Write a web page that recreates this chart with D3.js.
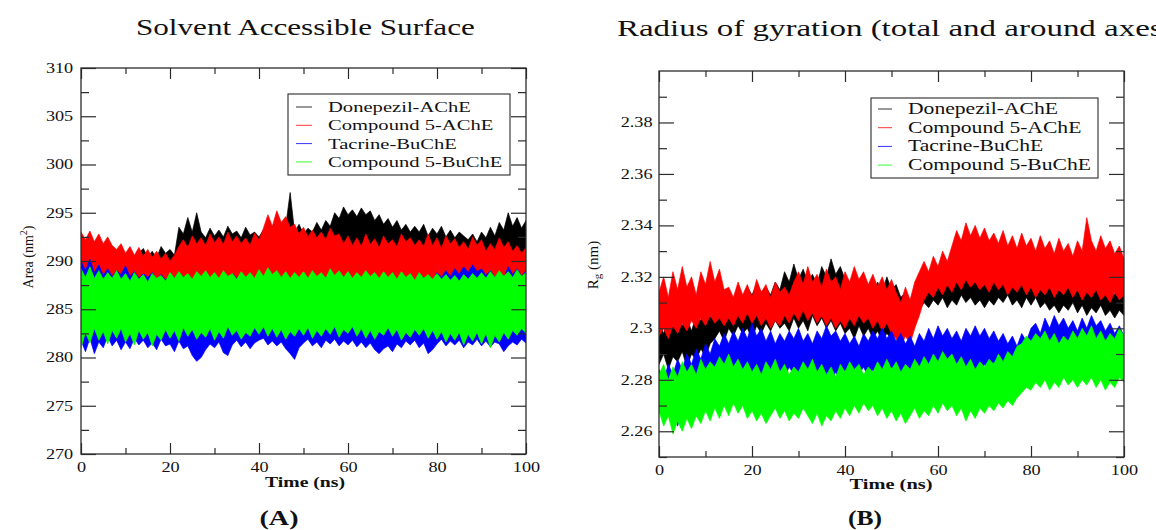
<!DOCTYPE html>
<html>
<head>
<meta charset="utf-8">
<script src="https://cdn.jsdelivr.net/npm/d3@7"></script>
<style>
  html, body { margin: 0; padding: 0; background: #fff; }
  svg { display: block; }
</style>
</head>
<body>
<svg id="chart" width="1156" height="530"></svg>
<script>
// ---------------- DATA ----------------
const timeNs = d3.range(0, 101); // sampling times (ns), 1 ns steps
const seriesNames = ["Donepezil-AChE", "Compound 5-AChE", "Tacrine-BuChE", "Compound 5-BuChE"];
const seriesColors = ["#000000", "#ff0000", "#0000ff", "#00ff00"];
const xTickValues = [0, 20, 40, 60, 80, 100];
const xMinorValues = [10, 30, 50, 70, 90];
const sasaTickValues = [270, 275, 280, 285, 290, 295, 300, 305, 310];
const sasaMinorValues = [272.5, 277.5, 282.5, 287.5, 292.5, 297.5, 302.5, 307.5];
const rgTickValues = [2.26, 2.28, 2.30, 2.32, 2.34, 2.36, 2.38];
const rgMinorValues = [2.25, 2.27, 2.29, 2.31, 2.33, 2.35, 2.37, 2.39];

// Panel A: SASA (nm^2) upper / lower envelopes per ns
const sasaDonepezilHi = [
 292.5,291.5,292.8,291.8,292.3,291.0,292.0,291.5,290.5,291.2,
 290.2,291.0,290.0,290.8,291.3,290.4,291.0,290.3,291.5,290.8,
 291.2,290.6,293.5,292.8,294.5,293.0,295.0,293.0,292.4,293.4,
 292.6,293.2,292.5,293.6,292.8,293.1,292.4,293.5,292.7,293.0,
 292.5,293.2,293.8,293.0,294.0,293.2,293.6,297.1,293.0,293.8,
 292.8,293.4,293.0,294.0,293.2,294.2,293.6,295.0,294.4,295.6,
 294.8,295.3,294.6,295.5,294.8,295.2,294.2,294.8,293.8,294.4,
 293.5,294.2,293.2,293.8,293.0,293.6,293.0,293.8,292.6,293.4,
 292.8,293.6,292.5,293.2,292.4,293.0,292.6,292.2,292.8,292.0,
 293.0,292.4,293.5,292.6,294.0,293.2,295.0,293.6,294.5,293.4,294.2];
const sasaDonepezilLo = [
 288.5,289.2,288.2,289.0,288.6,289.3,288.4,289.0,288.3,288.9,
 288.2,288.8,288.0,288.7,288.3,288.9,288.1,288.6,288.2,288.8,
 288.4,288.9,289.5,290.2,289.6,290.4,289.8,290.0,289.4,290.1,
 289.5,290.0,289.3,290.2,289.6,289.9,289.2,290.1,289.5,289.8,
 289.4,290.0,289.6,290.3,289.8,290.2,289.5,290.0,289.4,290.1,
 289.6,290.2,289.8,290.4,290.0,290.6,290.2,290.8,290.4,291.0,
 290.5,291.1,290.6,291.0,290.4,290.9,290.2,290.8,290.0,290.6,
 289.8,290.4,289.6,290.2,289.5,290.1,289.4,290.0,289.3,289.9,
 289.2,289.8,289.0,289.6,289.1,289.7,288.9,289.5,289.0,289.6,
 289.2,289.8,289.4,290.0,289.6,290.2,289.8,290.4,289.9,290.3,289.7];
const sasaComp5AChEHi = [
 293.0,292.2,293.1,292.0,292.8,291.8,292.5,291.6,291.2,291.8,
 290.8,291.5,290.6,291.4,290.5,291.2,290.4,291.0,290.2,290.8,
 290.0,290.6,291.5,292.2,291.4,292.6,291.8,292.4,291.6,292.8,
 291.9,292.5,291.7,293.0,292.0,292.6,291.8,292.4,291.6,292.9,
 292.2,293.4,294.8,293.6,295.2,294.0,294.6,293.5,293.8,292.8,
 293.5,292.5,293.2,292.4,293.0,292.2,293.4,292.6,292.8,291.8,
 292.6,291.6,292.4,291.5,292.8,291.7,292.3,291.4,292.6,291.8,
 292.2,291.5,292.8,292.0,292.4,291.6,292.2,291.5,292.8,291.6,
 292.4,291.3,292.6,291.8,292.3,291.4,292.0,291.2,292.5,291.6,
 292.2,291.0,291.8,291.2,292.4,291.4,292.0,291.0,291.6,290.8,291.4];
const sasaComp5AChELo = [
 287.8,287.2,288.0,287.4,287.9,287.3,287.7,287.1,287.6,287.2,
 287.5,287.0,287.6,287.1,287.4,286.9,287.5,287.0,287.6,287.2,
 287.8,287.3,287.9,287.4,288.0,287.5,287.8,287.3,287.9,287.4,
 287.7,287.2,287.8,287.3,287.9,287.4,287.8,287.3,287.7,287.2,
 287.9,287.4,288.1,287.5,288.0,287.4,287.8,287.3,287.9,287.4,
 287.8,287.3,287.9,287.4,287.7,287.2,287.8,287.3,287.9,287.4,
 287.8,287.3,287.9,287.4,287.7,287.2,287.8,287.3,287.9,287.4,
 287.7,287.2,287.8,287.3,287.6,287.1,287.7,287.2,287.8,287.3,
 287.6,287.1,287.7,287.2,287.5,287.0,287.6,287.1,287.7,287.2,
 287.6,287.1,287.7,287.2,287.6,287.1,287.7,287.2,287.6,287.1,287.5];
const sasaTacrineHi = [
 290.0,289.0,290.2,288.8,289.6,288.5,289.2,288.4,289.0,288.6,
 289.5,288.4,288.9,288.2,288.7,288.3,288.8,288.1,288.6,288.0,
 288.6,288.2,288.8,288.3,288.5,288.0,288.7,288.2,288.4,287.9,
 288.6,288.1,288.5,288.0,288.7,288.2,288.4,287.9,288.5,288.0,
 288.6,288.1,288.8,288.2,288.5,288.0,288.6,288.1,288.4,287.9,
 288.5,288.0,288.7,288.2,288.4,287.9,288.6,288.1,288.5,288.0,
 288.7,288.2,288.4,287.9,288.6,288.1,288.5,288.0,288.8,288.2,
 288.5,288.0,288.6,288.1,288.4,287.9,288.7,288.2,288.5,288.0,
 288.8,288.3,289.0,288.4,289.2,288.6,289.4,288.8,289.6,288.9,
 289.2,288.5,289.0,288.3,288.8,288.2,289.4,288.6,289.2,288.4,289.0];
const sasaTacrineLo = [
 281.8,280.6,282.0,280.4,281.6,281.0,282.2,281.2,281.8,280.8,
 281.6,280.9,282.0,281.3,281.8,281.0,281.5,280.8,281.9,281.2,
 281.4,280.6,281.7,280.9,281.2,280.2,279.6,280.0,280.8,281.4,
 281.0,281.6,280.5,280.2,281.3,281.8,281.1,281.6,280.9,281.5,
 281.8,282.0,281.3,281.7,281.2,281.6,280.9,280.4,279.8,281.0,
 281.5,281.9,281.2,281.6,281.0,281.8,281.4,281.9,281.2,281.7,
 281.3,281.8,281.1,281.6,281.0,281.5,280.8,280.4,280.9,281.2,
 280.6,281.4,281.0,281.7,281.3,281.8,281.0,281.5,280.4,280.8,
 281.4,281.9,281.2,281.7,281.3,281.8,281.0,281.6,281.3,281.9,
 281.2,281.7,281.1,281.6,281.4,280.6,281.2,281.6,281.3,281.9,281.5];
const sasaComp5BuChEHi = [
 289.2,288.3,289.4,288.2,289.0,288.1,288.8,288.2,289.0,288.1,
 288.7,287.9,288.8,288.1,288.6,287.8,288.7,288.2,288.5,287.9,
 288.8,288.2,288.9,288.3,288.7,288.1,288.9,288.4,289.0,288.3,
 288.8,288.2,289.0,288.4,288.7,288.1,288.9,288.3,288.8,288.2,
 289.1,288.4,289.3,288.6,289.0,288.3,288.9,288.2,288.8,288.3,
 288.9,288.2,289.0,288.4,288.8,288.2,289.2,288.5,289.0,288.3,
 288.9,288.2,288.8,288.3,289.0,288.4,288.8,288.2,288.9,288.3,
 288.8,288.1,288.9,288.3,288.7,288.0,288.8,288.2,288.6,288.1,
 288.7,288.1,288.6,288.0,288.5,287.9,288.6,288.1,288.7,288.2,
 288.8,288.2,288.9,288.3,289.0,288.4,288.9,288.3,289.1,288.4,288.8];
const sasaComp5BuChELo = [
 281.0,282.6,281.5,283.0,281.8,282.7,281.4,282.8,282.0,283.0,
 281.6,282.5,281.3,282.8,281.9,282.6,281.2,282.4,281.8,282.9,
 282.0,282.8,281.7,283.1,282.2,282.9,281.9,282.6,282.1,283.0,
 281.8,282.7,282.0,283.2,282.3,282.8,281.9,282.6,282.2,283.1,
 282.4,283.2,282.2,283.0,282.1,282.9,281.9,282.7,282.2,283.0,
 282.3,283.1,282.0,282.8,282.2,283.0,282.4,283.2,282.1,282.9,
 282.5,283.2,282.2,283.0,282.0,282.8,281.9,282.7,282.3,283.1,
 282.2,282.9,281.8,282.6,282.1,282.9,282.3,283.0,282.0,282.8,
 281.9,282.7,281.6,282.5,281.8,282.6,281.3,282.4,281.7,282.6,
 281.4,282.5,281.0,282.3,281.6,282.6,281.9,282.8,282.3,283.0,282.5];

// Panel B: Radius of gyration (nm) upper / lower envelopes per ns
const rgDonepezilHi = [
 2.302,2.298,2.304,2.300,2.306,2.301,2.304,2.299,2.305,2.303,
 2.308,2.304,2.308,2.312,2.310,2.314,2.311,2.315,2.312,2.316,
 2.313,2.317,2.314,2.316,2.313,2.318,2.315,2.322,2.318,2.325,
 2.319,2.323,2.318,2.321,2.317,2.324,2.320,2.327,2.321,2.324,
 2.319,2.318,2.314,2.317,2.313,2.316,2.312,2.318,2.314,2.320,
 2.315,2.317,2.312,2.314,2.310,2.313,2.318,2.314,2.320,2.316,
 2.322,2.317,2.321,2.318,2.323,2.319,2.322,2.318,2.324,2.320,
 2.322,2.317,2.321,2.318,2.323,2.319,2.321,2.317,2.320,2.316,
 2.322,2.318,2.321,2.317,2.319,2.315,2.320,2.316,2.319,2.315,
 2.318,2.314,2.317,2.313,2.316,2.318,2.314,2.317,2.313,2.316,2.314];
const rgDonepezilLo = [
 2.286,2.290,2.284,2.289,2.287,2.291,2.285,2.290,2.288,2.292,
 2.289,2.294,2.296,2.299,2.295,2.300,2.297,2.301,2.298,2.300,
 2.296,2.301,2.298,2.302,2.299,2.303,2.300,2.302,2.299,2.304,
 2.300,2.303,2.299,2.305,2.301,2.304,2.300,2.303,2.299,2.302,
 2.298,2.300,2.296,2.301,2.297,2.300,2.296,2.299,2.295,2.298,
 2.296,2.300,2.297,2.301,2.298,2.302,2.307,2.310,2.308,2.311,
 2.309,2.312,2.308,2.311,2.309,2.313,2.310,2.312,2.309,2.311,
 2.308,2.311,2.309,2.312,2.310,2.313,2.309,2.311,2.308,2.312,
 2.309,2.312,2.308,2.310,2.307,2.309,2.306,2.309,2.307,2.310,
 2.306,2.309,2.305,2.308,2.306,2.309,2.305,2.307,2.304,2.307,2.305];
const rgComp5AChEHi = [
 2.314,2.320,2.312,2.322,2.315,2.324,2.316,2.320,2.313,2.322,
 2.317,2.326,2.318,2.323,2.315,2.316,2.312,2.318,2.313,2.317,
 2.312,2.319,2.314,2.317,2.312,2.318,2.314,2.316,2.313,2.318,
 2.322,2.317,2.324,2.318,2.321,2.316,2.323,2.318,2.320,2.315,
 2.322,2.318,2.324,2.319,2.322,2.317,2.321,2.316,2.320,2.315,
 2.319,2.314,2.310,2.316,2.311,2.318,2.322,2.326,2.322,2.328,
 2.324,2.330,2.326,2.332,2.338,2.334,2.341,2.336,2.340,2.335,
 2.339,2.334,2.337,2.333,2.338,2.332,2.336,2.331,2.337,2.332,
 2.335,2.330,2.336,2.331,2.334,2.329,2.335,2.330,2.333,2.328,
 2.334,2.330,2.343,2.334,2.330,2.336,2.331,2.334,2.329,2.332,2.327];
const rgComp5AChELo = [
 2.297,2.300,2.296,2.301,2.298,2.302,2.299,2.303,2.300,2.304,
 2.301,2.305,2.302,2.304,2.301,2.304,2.301,2.305,2.302,2.306,
 2.302,2.305,2.301,2.304,2.300,2.303,2.301,2.305,2.302,2.306,
 2.303,2.307,2.303,2.306,2.302,2.305,2.301,2.304,2.300,2.303,
 2.300,2.304,2.301,2.305,2.302,2.304,2.300,2.303,2.299,2.302,
 2.298,2.296,2.293,2.297,2.294,2.300,2.305,2.311,2.314,2.312,
 2.316,2.313,2.317,2.314,2.318,2.315,2.319,2.316,2.318,2.315,
 2.317,2.314,2.318,2.315,2.317,2.313,2.316,2.314,2.317,2.313,
 2.316,2.312,2.315,2.313,2.316,2.312,2.315,2.313,2.316,2.312,
 2.315,2.311,2.314,2.312,2.315,2.311,2.313,2.310,2.314,2.311,2.313];
const rgTacrineHi = [
 2.284,2.280,2.286,2.282,2.288,2.284,2.290,2.286,2.292,2.288,
 2.294,2.290,2.296,2.293,2.298,2.294,2.299,2.295,2.300,2.296,
 2.302,2.297,2.300,2.295,2.299,2.294,2.298,2.295,2.299,2.296,
 2.300,2.295,2.298,2.294,2.299,2.296,2.301,2.297,2.299,2.295,
 2.298,2.294,2.297,2.293,2.298,2.295,2.299,2.296,2.300,2.296,
 2.299,2.295,2.298,2.294,2.297,2.293,2.298,2.295,2.300,2.296,
 2.301,2.297,2.300,2.296,2.299,2.295,2.300,2.297,2.301,2.297,
 2.300,2.296,2.299,2.295,2.298,2.294,2.297,2.293,2.298,2.295,
 2.300,2.302,2.298,2.304,2.300,2.305,2.301,2.304,2.300,2.303,
 2.299,2.304,2.300,2.305,2.301,2.303,2.299,2.302,2.298,2.301,2.297];
const rgTacrineLo = [
 2.268,2.272,2.266,2.270,2.262,2.268,2.272,2.266,2.270,2.274,
 2.270,2.276,2.279,2.282,2.278,2.272,2.277,2.281,2.279,2.283,
 2.280,2.284,2.281,2.279,2.283,2.280,2.284,2.281,2.285,2.282,
 2.279,2.283,2.280,2.284,2.281,2.285,2.282,2.279,2.283,2.280,
 2.284,2.281,2.276,2.282,2.285,2.281,2.284,2.280,2.283,2.281,
 2.285,2.282,2.280,2.284,2.281,2.285,2.282,2.286,2.283,2.280,
 2.284,2.281,2.285,2.282,2.286,2.283,2.285,2.281,2.284,2.282,
 2.286,2.283,2.287,2.284,2.286,2.282,2.285,2.280,2.284,2.286,
 2.288,2.285,2.289,2.286,2.290,2.287,2.289,2.285,2.288,2.286,
 2.289,2.286,2.290,2.287,2.289,2.285,2.288,2.284,2.287,2.285,2.288];
const rgComp5BuChEHi = [
 2.282,2.286,2.280,2.285,2.281,2.287,2.283,2.286,2.282,2.288,
 2.284,2.287,2.285,2.289,2.286,2.290,2.285,2.288,2.284,2.287,
 2.283,2.286,2.282,2.287,2.284,2.288,2.283,2.286,2.282,2.285,
 2.283,2.287,2.284,2.288,2.283,2.286,2.282,2.285,2.281,2.286,
 2.283,2.287,2.284,2.286,2.282,2.285,2.283,2.287,2.284,2.288,
 2.284,2.287,2.283,2.286,2.284,2.288,2.285,2.289,2.286,2.290,
 2.287,2.291,2.288,2.290,2.286,2.289,2.285,2.288,2.284,2.287,
 2.285,2.288,2.286,2.290,2.287,2.291,2.289,2.293,2.294,2.297,
 2.295,2.298,2.296,2.299,2.295,2.298,2.294,2.297,2.295,2.299,
 2.296,2.300,2.297,2.301,2.296,2.299,2.295,2.298,2.296,2.300,2.297];
const rgComp5BuChELo = [
 2.268,2.262,2.266,2.259,2.264,2.260,2.265,2.261,2.266,2.263,
 2.268,2.264,2.269,2.265,2.270,2.266,2.271,2.267,2.270,2.265,
 2.268,2.264,2.267,2.263,2.266,2.269,2.265,2.268,2.264,2.267,
 2.265,2.269,2.266,2.263,2.267,2.262,2.266,2.264,2.268,2.265,
 2.269,2.266,2.270,2.267,2.271,2.268,2.270,2.266,2.269,2.265,
 2.268,2.264,2.267,2.263,2.266,2.269,2.265,2.268,2.266,2.270,
 2.267,2.271,2.268,2.270,2.266,2.269,2.264,2.268,2.265,2.269,
 2.267,2.270,2.268,2.271,2.269,2.272,2.270,2.273,2.275,2.277,
 2.276,2.279,2.277,2.280,2.276,2.279,2.277,2.281,2.278,2.280,
 2.277,2.280,2.278,2.281,2.277,2.280,2.276,2.279,2.277,2.281,2.279];

// ---------------- DRAWING ----------------
const FONT = "Liberation Serif";
const svg = d3.select("#chart");
svg.append("rect").attr("width", 1156).attr("height", 530).attr("fill", "#fff");
const INK = "#2b2b2b";
const SX = 1.3; // horizontal stretch of the source figure's lettering
const legendMarks = [];

function measure(str, size, weight) {
  const tmp = svg.append("text").attr("font-family", FONT).attr("font-size", size)
    .attr("font-weight", weight || "normal").text(str);
  const w = tmp.node().getComputedTextLength();
  tmp.remove();
  return w;
}

function stext(x, y, str, o) {
  const g = svg.append("g").attr("transform", `translate(${x},${y})` + (o.rotate ? ` rotate(${o.rotate})` : ""));
  const t = g.append("text")
    .attr("font-family", FONT)
    .attr("font-size", o.size)
    .attr("font-weight", o.weight || "normal")
    .attr("text-anchor", o.anchor || "start")
    .attr("fill", "#111");
  if (o.build) o.build(t); else t.text(str);
  let sx = o.sx || SX;
  if (o.width) sx = o.width / measure(o.measure || str, o.size, o.weight);
  if (!o.rotate) t.attr("transform", `scale(${sx},1)`);
  return t;
}

function panel(cfg) {
  const x = d3.scaleLinear().domain([0, 100]).range([cfg.left, cfg.right]);
  const y = d3.scaleLinear().domain(cfg.yDomain).range([cfg.bottom, cfg.top]);
  const w = cfg.right - cfg.left, h = cfg.bottom - cfg.top;

  const clipId = "clip-" + cfg.id;
  svg.append("defs").append("clipPath").attr("id", clipId).append("rect")
    .attr("x", cfg.left).attr("y", cfg.top).attr("width", w).attr("height", h);

  const plot = svg.append("g").attr("clip-path", `url(#${clipId})`);
  cfg.series.forEach((s, i) => {
    const data = timeNs.map((t, k) => ({ t, lo: s.lo[k], hi: s.hi[k] }));
    const area = d3.area().x(d => x(d.t)).y0(d => y(d.lo)).y1(d => y(d.hi));
    plot.append("path").datum(data).attr("d", area)
      .attr("fill", seriesColors[i]).attr("stroke", seriesColors[i])
      .attr("stroke-width", 0.7).attr("stroke-linejoin", "round");
  });

  const tickStyle = g => {
    g.select(".domain").remove();
    g.selectAll("line").attr("stroke", INK).attr("stroke-width", 1.2);
  };
  const labelStyle = g => { g.attr("font-family", FONT).attr("font-size", 14);
    g.selectAll("text").attr("fill", "#111").attr("transform", `scale(${SX},1)`); };
  // bottom
  svg.append("g").attr("transform", `translate(0,${cfg.bottom})`)
    .call(d3.axisBottom(x).tickValues(xTickValues).tickSize(-11).tickPadding(8).tickFormat(d => d))
    .call(tickStyle).call(labelStyle);
  svg.append("g").attr("transform", `translate(0,${cfg.bottom})`)
    .call(d3.axisBottom(x).tickValues(xMinorValues).tickSize(-6).tickFormat(""))
    .call(tickStyle);
  // top
  svg.append("g").attr("transform", `translate(0,${cfg.top})`)
    .call(d3.axisTop(x).tickValues(xTickValues).tickSize(-11).tickFormat(""))
    .call(tickStyle);
  svg.append("g").attr("transform", `translate(0,${cfg.top})`)
    .call(d3.axisTop(x).tickValues(xMinorValues).tickSize(-6).tickFormat(""))
    .call(tickStyle);
  // left
  svg.append("g").attr("transform", `translate(${cfg.left},0)`)
    .call(d3.axisLeft(y).tickValues(cfg.yTicks).tickSize(-15).tickPadding(cfg.yPad).tickFormat(cfg.fmt))
    .call(tickStyle).call(labelStyle);
  svg.append("g").attr("transform", `translate(${cfg.left},0)`)
    .call(d3.axisLeft(y).tickValues(cfg.yMinor).tickSize(-8).tickFormat(""))
    .call(tickStyle);
  // right
  svg.append("g").attr("transform", `translate(${cfg.right},0)`)
    .call(d3.axisRight(y).tickValues(cfg.yTicks).tickSize(-15).tickFormat(""))
    .call(tickStyle);
  svg.append("g").attr("transform", `translate(${cfg.right},0)`)
    .call(d3.axisRight(y).tickValues(cfg.yMinor).tickSize(-8).tickFormat(""))
    .call(tickStyle);
  // frame
  svg.append("rect").attr("x", cfg.left).attr("y", cfg.top).attr("width", w).attr("height", h)
    .attr("fill", "none").attr("stroke", INK).attr("stroke-width", 1.3);

  // legend
  const L = cfg.legend;
  svg.append("rect").attr("x", L.x0).attr("y", L.y0).attr("width", L.x1 - L.x0).attr("height", L.y1 - L.y0)
    .attr("fill", "#fff").attr("stroke", INK).attr("stroke-width", 1.1);
  const lsx = L.target / measure("Donepezil-AChE", L.size);
  seriesNames.forEach((name, i) => {
    const by = L.base + i * L.step;
    stext(L.tx, by, name, { size: L.size, sx: lsx });
    legendMarks.push({ x0: L.lx0, x1: L.lx1, y: by - 5, color: seriesColors[i] });
  });
  return { x, y };
}

// Panel A
panel({
  id: "a", left: 81, right: 526, top: 68, bottom: 454,
  yDomain: [270, 310], yTicks: sasaTickValues, yMinor: sasaMinorValues, yPad: 6,
  fmt: d => String(d),
  series: [
    { hi: sasaDonepezilHi, lo: sasaDonepezilLo },
    { hi: sasaComp5AChEHi, lo: sasaComp5AChELo },
    { hi: sasaTacrineHi, lo: sasaTacrineLo },
    { hi: sasaComp5BuChEHi, lo: sasaComp5BuChELo }
  ],
  legend: { x0: 288, x1: 510, y0: 94, y1: 175, base: 112, step: 18.3, lx0: 296, lx1: 312, tx: 328,
            size: 15.5, target: 143 }
});

// Panel B
panel({
  id: "b", left: 659, right: 1124, top: 71, bottom: 457,
  yDomain: [2.25, 2.40], yTicks: rgTickValues, yMinor: rgMinorValues, yPad: 5,
  fmt: d => String(+d.toFixed(2)),
  series: [
    { hi: rgDonepezilHi, lo: rgDonepezilLo },
    { hi: rgComp5AChEHi, lo: rgComp5AChELo },
    { hi: rgTacrineHi, lo: rgTacrineLo },
    { hi: rgComp5BuChEHi, lo: rgComp5BuChELo }
  ],
  legend: { x0: 871, x1: 1098, y0: 98, y1: 178, base: 114, step: 18.7, lx0: 878, lx1: 892, tx: 908,
            size: 16, target: 150 }
});

// Titles
stext(136, 35, "Solvent Accessible Surface", { size: 23, width: 339 });
stext(617, 36, "Radius of gyration (total and around axes)",
      { size: 23, width: 533, measure: "Radius of gyration (total and around axe" });

// Axis titles
stext(305, 487, "Time (ns)", { size: 14, weight: "bold", anchor: "middle", width: 80 });
stext(891, 489, "Time (ns)", { size: 14, weight: "bold", anchor: "middle", width: 83 });

// Y axis titles (rotated)
stext(33, 257, "", { size: 14, anchor: "middle", rotate: -90,
  build: t => { t.append("tspan").text("Area (nm"); t.append("tspan").attr("dy", -6).attr("font-size", 10).text("2");
                t.append("tspan").attr("dy", 6).text(")"); } });
stext(598, 265, "", { size: 15, anchor: "middle", rotate: -90,
  build: t => { t.append("tspan").text("R"); t.append("tspan").attr("dy", 3).attr("font-size", 11).text("g");
                t.append("tspan").attr("dy", -3).text(" (nm)"); } });

// Panel letters
stext(279, 525, "(A)", { size: 21, weight: "bold", anchor: "middle", width: 39 });
stext(865, 525, "(B)", { size: 21, weight: "bold", anchor: "middle", width: 34 });

// Legend sample lines (thin), drawn last
const marks = svg.append("g").attr("class", "legend-marks");
legendMarks.forEach(m => {
  marks.append("line").attr("x1", m.x0).attr("x2", m.x1).attr("y1", m.y).attr("y2", m.y)
    .attr("stroke", m.color).attr("stroke-width", 1).attr("stroke-opacity", 0.8);
});
</script>
</body>
</html>
